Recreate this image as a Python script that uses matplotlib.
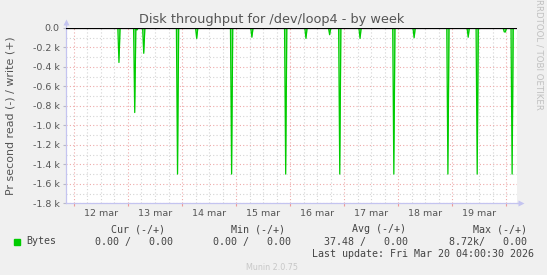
import matplotlib
matplotlib.use("Agg")
import matplotlib.pyplot as plt
import matplotlib.dates as mdates
import pandas as pd
import numpy as np

# ---- data ----
spike_times = [
    "2026-03-12 20:00", "2026-03-13 03:00", "2026-03-13 04:00", "2026-03-13 07:00",
    "2026-03-13 22:00", "2026-03-14 06:30", "2026-03-14 22:00", "2026-03-15 07:00",
    "2026-03-15 22:00", "2026-03-16 07:00", "2026-03-16 17:30", "2026-03-16 22:00",
    "2026-03-17 07:00", "2026-03-17 22:00", "2026-03-18 07:00", "2026-03-18 22:00",
    "2026-03-19 07:00", "2026-03-19 11:00", "2026-03-19 23:00", "2026-03-19 23:30",
    "2026-03-20 02:30",
]
spike_values = [
    -354, -868, -20, -260,
    -1500, -107, -1500, -95,
    -1500, -107, -69, -1500,
    -107, -1500, -100, -1500,
    -95, -1500, -40, -40,
    -1500,
]
day_labels = ["12 mar", "13 mar", "14 mar", "15 mar", "16 mar", "17 mar", "18 mar", "19 mar"]
y_ticks = [0, -200, -400, -600, -800, -1000, -1200, -1400, -1600, -1800]
y_tick_labels = ["0.0", "-0.2 k", "-0.4 k", "-0.6 k", "-0.8 k", "-1.0 k",
                 "-1.2 k", "-1.4 k", "-1.6 k", "-1.8 k"]
legend_name = "Bytes"
cur_vals = ("0.00", "0.00")
min_vals = ("0.00", "0.00")
avg_vals = ("37.48", "0.00")
max_vals = ("8.72k", "0.00")

t_start = pd.Timestamp("2026-03-11 20:30")
t_end = pd.Timestamp("2026-03-20 04:40")

# 30-minute samples, zero except where spikes were read
idx = pd.date_range(t_start.floor("30min"), t_end, freq="30min")
series = pd.Series(0.0, index=idx)
for t, v in zip(spike_times, spike_values):
    series[pd.Timestamp(t)] = v

W, H = 547, 275
fig = plt.figure(figsize=(W / 100, H / 100), dpi=100, facecolor="#f0f0f0")

def fx(x):
    return x / W

def fy(y):
    return 1 - y / H

L, R, T, B = 66, 517, 27.5, 203.3
ax = fig.add_axes([fx(L), fy(B), fx(R) - fx(L), fy(T) - fy(B)])
ax.set_facecolor("white")

xnum = mdates.date2num(series.index.to_pydatetime())
ax.set_xlim(mdates.date2num(t_start), mdates.date2num(t_end))
ax.set_ylim(-1800, 5)

# grid
minor_col = "#d4d4d4"
major_col = "#eeaaaa"
dots = (0, (1, 2))
six_h = pd.date_range("2026-03-11 00:00", "2026-03-21 00:00", freq="6h")
for t in six_h:
    xv = mdates.date2num(t)
    if t.hour == 0:
        ax.axvline(xv, color=major_col, lw=0.8, ls=dots, zorder=1)
    else:
        ax.axvline(xv, color=minor_col, lw=0.8, ls=dots, zorder=1)
for yv in np.arange(-1800, 1, 100):
    if yv % 200 == 0:
        ax.axhline(yv, color=major_col, lw=0.8, ls=dots, zorder=1)
    else:
        ax.axhline(yv, color=minor_col, lw=0.8, ls=dots, zorder=1)

# data
ax.fill_between(xnum, series.values, 0, color="#7ee07e", lw=0, zorder=2)
ax.plot(xnum, series.values, color="#00cc00", lw=0.9, zorder=3)
ax.axhline(0, color="black", lw=0.9, zorder=4)

# ticks
tick_col = "#555555"
ax.set_yticks(y_ticks)
ax.set_yticklabels(y_tick_labels)
noons = [mdates.date2num(pd.Timestamp("2026-03-%02d 12:00" % d)) for d in range(12, 20)]
ax.set_xticks(noons)
ax.set_xticklabels(day_labels)
midn = [mdates.date2num(pd.Timestamp("2026-03-%02d 00:00" % d)) for d in range(12, 21)]
ax.set_xticks(midn, minor=True)
ax.tick_params(axis="x", which="major", length=0, pad=4, labelsize=6.8, labelcolor=tick_col)
ax.tick_params(axis="x", which="minor", length=2.5, color="#ee9999", width=0.8)
ax.tick_params(axis="y", which="major", length=2.5, width=0.8, color="#b8b8c8", pad=2,
               labelsize=6.8, labelcolor=tick_col)

for s in ("top", "right"):
    ax.spines[s].set_visible(False)
axis_col = "#c4c4f0"
for s in ("left", "bottom"):
    ax.spines[s].set_color(axis_col)
    ax.spines[s].set_linewidth(0.9)

# axis arrows
ax.plot([0, 0], [1, 1.02], transform=ax.transAxes, color=axis_col, lw=0.9, clip_on=False)
ax.plot([0], [1.03], transform=ax.transAxes, marker="^", ms=4.5, color=axis_col,
        mec="none", clip_on=False)
ax.plot([1, 1.005], [0, 0], transform=ax.transAxes, color=axis_col, lw=0.9, clip_on=False)
ax.plot([1.009], [0], transform=ax.transAxes, marker=">", ms=4.5, color=axis_col,
        mec="none", clip_on=False)

# texts
txt_col = "#555555"
fig.text(fx(272), fy(19), "Disk throughput for /dev/loop4 - by week", ha="center",
         va="center", fontsize=9.3, color=txt_col)
fig.text(fx(10.5), fy(115.5), "Pr second read (-) / write (+)", rotation=90,
         ha="center", va="center", fontsize=7.9, color=txt_col)
fig.text(fx(538.5), fy(54), "RRDTOOL / TOBI OETIKER", rotation=270, ha="center",
         va="center", fontsize=6.2, color="#c0c0c0")

mono = "DejaVu Sans Mono"
fs = 7.2
lc = "#444444"
fig.text(fx(111), fy(229), "Cur (-/+)", family=mono, fontsize=fs, color=lc, va="center")
fig.text(fx(231), fy(229), "Min (-/+)", family=mono, fontsize=fs, color=lc, va="center")
fig.text(fx(352), fy(229), "Avg (-/+)", family=mono, fontsize=fs, color=lc, va="center")
fig.text(fx(473), fy(229), "Max (-/+)", family=mono, fontsize=fs, color=lc, va="center")

fig.patches.append(plt.Rectangle((fx(14), fy(244.5)), fx(5.5), fy(239) - fy(244.5),
                                 transform=fig.transFigure, color="#00cc00"))
fig.text(fx(26), fy(241.5), legend_name, family=mono, fontsize=fs, color=lc, va="center")

def pair(a, b):
    left = (a + " /") if not a.endswith("k") else (a + "/")
    return "%s   %s" % (left, b)

fig.text(fx(95), fy(241.5), pair(*cur_vals), family=mono, fontsize=fs, color=lc, va="center")
fig.text(fx(213), fy(241.5), pair(*min_vals), family=mono, fontsize=fs, color=lc, va="center")
fig.text(fx(324.5), fy(241.5), pair(*avg_vals), family=mono, fontsize=fs, color=lc, va="center")
fig.text(fx(449), fy(241.5), pair(*max_vals), family=mono, fontsize=fs, color=lc, va="center")
fig.text(fx(311.6), fy(254.3), "Last update: Fri Mar 20 04:00:30 2026", family=mono,
         fontsize=fs, color=lc, va="center")
fig.text(fx(272.5), fy(267.6), "Munin 2.0.75", ha="center", va="center", fontsize=5.8,
         color="#c8c8c8")

fig.savefig("out.png", dpi=100, facecolor=fig.get_facecolor())
